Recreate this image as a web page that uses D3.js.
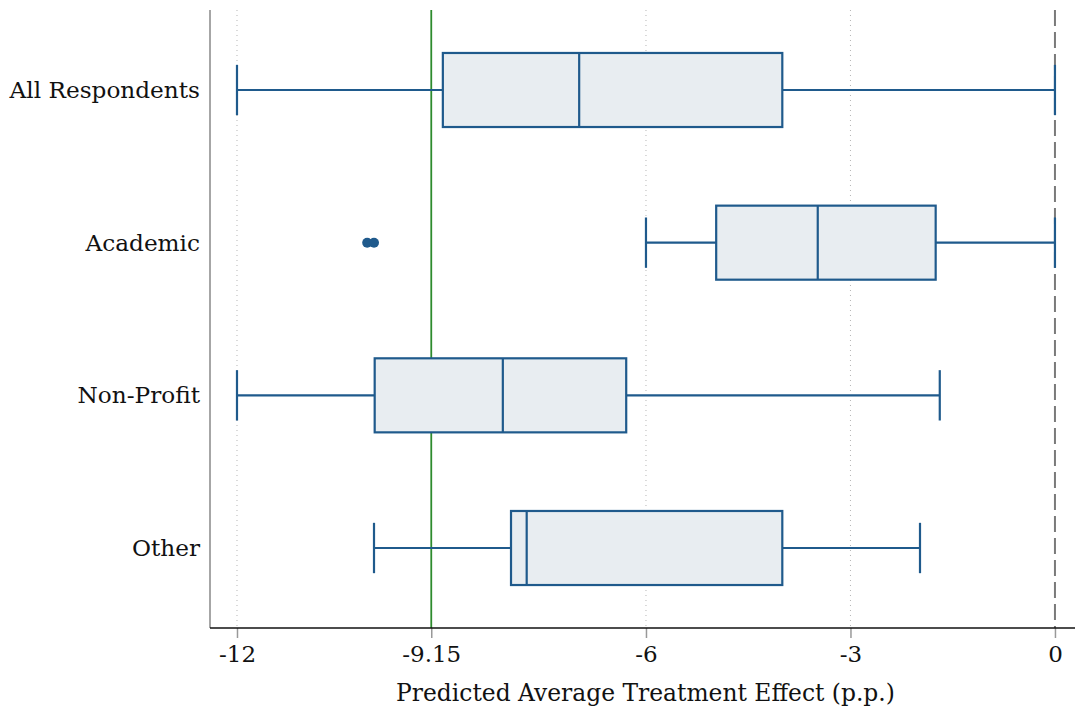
<!DOCTYPE html>
<html>
<head>
<meta charset="utf-8">
<script src="https://cdn.jsdelivr.net/npm/d3@7"></script>
<style>
  body { margin: 0; background: #fff; }
  svg text { font-family: "DejaVu Serif", "Liberation Serif", serif; fill: #111; }
</style>
</head>
<body>
<svg id="chart" width="1075" height="710"></svg>
<script>
// categories, top to bottom
const groups = ['All Respondents', 'Academic', 'Non-Profit', 'Other'];
// box stats (p.p.)
const whiskerLo = [-12, -6, -12, -9.99];
const q1 = [-8.98, -4.97, -9.98, -7.98];
const median = [-6.98, -3.48, -8.10, -7.75];
const q3 = [-4.0, -1.75, -6.29, -4.0];
const whiskerHi = [0, 0, -1.69, -1.98];
// outliers: [group, value]
const outliers = [['Academic', -10.09], ['Academic', -9.99]];
const xTicks = [-12, -9.15, -6, -3, 0];
const gridTicks = [-12, -6, -3];
const refLine = -9.15;

const width = 1075;
const height = 710;
const marginLeft = 210;
const marginRight = 0;
const marginTop = 10;
const marginBottom = 82;

const blue = '#1f5a8c';
const boxFill = '#e8edf1';
const font = '"DejaVu Serif", "Liberation Serif", serif';

const $svg = d3.select('#chart');

const scaleX = d3.scaleLinear()
  .domain([-12.396, 0.294])
  .range([marginLeft, width - marginRight]);

const scaleY = d3.scaleBand()
  .domain(groups)
  .range([marginTop, height - marginBottom])
  .paddingInner(0.515)
  .paddingOuter(0.2815);

const data = groups.map((g, i) => ({
  key: g, lo: whiskerLo[i], q1: q1[i], med: median[i], q3: q3[i], hi: whiskerHi[i]
}));

const plotBottom = height - marginBottom;

// grid lines
$svg.append('g').selectAll('line')
  .data(gridTicks)
  .join('line')
  .attr('x1', d => scaleX(d)).attr('x2', d => scaleX(d))
  .attr('y1', marginTop).attr('y2', plotBottom)
  .attr('stroke', '#b5b5b5')
  .attr('stroke-width', 1)
  .attr('stroke-dasharray', '1,4');

// zero line
$svg.append('line')
  .attr('x1', scaleX(0)).attr('x2', scaleX(0))
  .attr('y1', marginTop).attr('y2', plotBottom)
  .attr('stroke', '#7a7a7a')
  .attr('stroke-width', 2)
  .attr('stroke-dasharray', '16,6');

// reference line
$svg.append('line')
  .attr('x1', scaleX(refLine)).attr('x2', scaleX(refLine))
  .attr('y1', marginTop).attr('y2', plotBottom)
  .attr('stroke', '#2e8b2e')
  .attr('stroke-width', 1.8);

const bw = scaleY.bandwidth();
const $boxes = $svg.append('g').selectAll('g')
  .data(data)
  .join('g')
  .attr('transform', d => `translate(0, ${scaleY(d.key)})`);

// whiskers
$boxes.append('line')
  .attr('x1', d => scaleX(d.lo)).attr('x2', d => scaleX(d.q1))
  .attr('y1', bw / 2).attr('y2', bw / 2)
  .attr('stroke', blue).attr('stroke-width', 2.2);
$boxes.append('line')
  .attr('x1', d => scaleX(d.q3)).attr('x2', d => scaleX(d.hi))
  .attr('y1', bw / 2).attr('y2', bw / 2)
  .attr('stroke', blue).attr('stroke-width', 2.2);

// caps
const capHalf = bw * 0.34;
['lo', 'hi'].forEach(k => {
  $boxes.append('line')
    .attr('x1', d => scaleX(d[k])).attr('x2', d => scaleX(d[k]))
    .attr('y1', bw / 2 - capHalf).attr('y2', bw / 2 + capHalf)
    .attr('stroke', blue).attr('stroke-width', 2.2);
});

// box
$boxes.append('rect')
  .attr('x', d => scaleX(d.q1))
  .attr('width', d => scaleX(d.q3) - scaleX(d.q1))
  .attr('y', 0).attr('height', bw)
  .attr('fill', boxFill)
  .attr('stroke', blue).attr('stroke-width', 2.2);

// median
$boxes.append('line')
  .attr('x1', d => scaleX(d.med)).attr('x2', d => scaleX(d.med))
  .attr('y1', 0).attr('y2', bw)
  .attr('stroke', blue).attr('stroke-width', 2.2);

// outliers
$svg.append('g').selectAll('circle')
  .data(outliers)
  .join('circle')
  .attr('cx', d => scaleX(d[1]))
  .attr('cy', d => scaleY(d[0]) + bw / 2)
  .attr('r', 5)
  .attr('fill', blue);

// axes
$svg.append('line')
  .attr('x1', marginLeft).attr('x2', marginLeft)
  .attr('y1', marginTop).attr('y2', plotBottom)
  .attr('stroke', '#888').attr('stroke-width', 1.5);

const $xAxis = $svg.append('g')
  .attr('transform', `translate(0, ${plotBottom})`)
  .call(d3.axisBottom(scaleX).tickValues(xTicks).tickSize(10).tickPadding(8)
    .tickFormat(d => d === refLine ? '-9.15' : d3.format('d')(d).replace('−', '-')));
$xAxis.attr('font-family', font);
$xAxis.select('.domain').remove();
$xAxis.selectAll('.tick line').attr('stroke', '#999').attr('stroke-width', 1.5);
$xAxis.selectAll('.tick text').attr('font-family', font).style('font-size', '23px').attr('fill', '#111');

$svg.append('line')
  .attr('x1', marginLeft).attr('x2', width)
  .attr('y1', plotBottom).attr('y2', plotBottom)
  .attr('stroke', '#111').attr('stroke-width', 1.5);

// y labels
$svg.append('g').selectAll('text')
  .data(groups)
  .join('text')
  .attr('x', marginLeft - 10)
  .attr('y', d => scaleY(d) + bw / 2)
  .attr('dy', '0.35em')
  .attr('text-anchor', 'end')
  .attr('font-family', font)
  .style('font-size', '23.2px')
  .text(d => d);

// x title
$svg.append('text')
  .attr('x', (marginLeft + width) / 2 + 3)
  .attr('y', 701)
  .attr('text-anchor', 'middle')
  .attr('font-family', font)
  .style('font-size', '23.4px')
  .text('Predicted Average Treatment Effect (p.p.)');
</script>
</body>
</html>
